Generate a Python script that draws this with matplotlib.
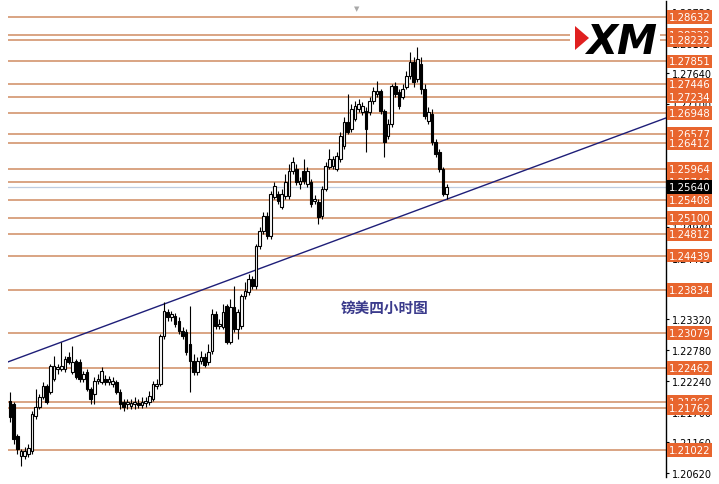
import numpy as np
import matplotlib.pyplot as plt
from matplotlib.patches import Polygon, Rectangle

plt.rcParams['font.family'] = ['DejaVu Sans']

# GBPUSD 4h candles
opens = [1.2189, 1.2183, 1.2127, 1.2092, 1.2092, 1.2095, 1.2101, 1.2162, 1.2178, 1.2196,
         1.2215, 1.2204, 1.2227, 1.2245, 1.2245, 1.2245, 1.2266, 1.2239, 1.2259, 1.2257,
         1.2227, 1.2239, 1.2210, 1.2201, 1.2224, 1.2222, 1.2227, 1.2222, 1.2218, 1.2222,
         1.2204, 1.2187, 1.2183, 1.2180, 1.2183, 1.2185, 1.2181, 1.2185, 1.2187, 1.2192,
         1.2215, 1.2218, 1.2303, 1.2345, 1.2336, 1.2338, 1.2329, 1.2311, 1.2310, 1.2289,
         1.2259, 1.2239, 1.2259, 1.2266, 1.2257, 1.2277, 1.2341, 1.2320, 1.2319, 1.2355,
         1.2292, 1.2354, 1.2315, 1.2320, 1.2373, 1.2380, 1.2403, 1.2391, 1.2461, 1.2487,
         1.2514, 1.2478, 1.2547, 1.2552, 1.2529, 1.2549, 1.2549, 1.2593, 1.2596, 1.2570,
         1.2593, 1.2570, 1.2573, 1.2540, 1.2538, 1.2514, 1.2561, 1.2600, 1.2601, 1.2596,
         1.2614, 1.2637, 1.2679, 1.2666, 1.2684, 1.2701, 1.2696, 1.2698, 1.2696, 1.2716,
         1.2728, 1.2733, 1.2698, 1.2654, 1.2675, 1.2742, 1.2731, 1.2723, 1.2740, 1.2760,
         1.2784, 1.2754, 1.2781, 1.2737, 1.2680, 1.2693, 1.2644, 1.2626, 1.2596, 1.2552]
highs = [1.2204, 1.2187, 1.2131, 1.2104, 1.2108, 1.2113, 1.2171, 1.2210, 1.2201, 1.2222,
         1.2218, 1.2253, 1.2268, 1.2253, 1.2292, 1.2268, 1.2275, 1.2285, 1.2262, 1.2262,
         1.2241, 1.2245, 1.2213, 1.2231, 1.2236, 1.2248, 1.2234, 1.2232, 1.2231, 1.2225,
         1.2210, 1.2192, 1.2192, 1.2192, 1.2196, 1.2192, 1.2196, 1.2196, 1.2206, 1.2224,
         1.2227, 1.2306, 1.2362, 1.2350, 1.2347, 1.2343, 1.2336, 1.2319, 1.2315, 1.2355,
         1.2271, 1.2266, 1.2276, 1.2273, 1.2289, 1.2350, 1.2347, 1.2333, 1.2359, 1.2359,
         1.2368, 1.2391, 1.2350, 1.2377, 1.2398, 1.2412, 1.2408, 1.2464, 1.2494, 1.2521,
         1.2521, 1.2557, 1.2573, 1.2557, 1.2561, 1.2587, 1.2605, 1.2617, 1.2605, 1.2582,
         1.2614, 1.2600, 1.2579, 1.2550, 1.2543, 1.2566, 1.2608, 1.2631, 1.2619, 1.2626,
         1.2661, 1.2687, 1.2728, 1.2710, 1.2716, 1.2719, 1.2714, 1.2705, 1.2723, 1.2740,
         1.2751, 1.2737, 1.2701, 1.2684, 1.2745, 1.2749, 1.2737, 1.2745, 1.2768, 1.2802,
         1.2793, 1.2810, 1.2793, 1.2745, 1.2705, 1.2701, 1.2649, 1.2631, 1.2600, 1.2570]
lows = [1.2152, 1.2113, 1.2095, 1.2074, 1.2087, 1.2090, 1.2095, 1.2157, 1.2174, 1.2192,
        1.2183, 1.2201, 1.2224, 1.2236, 1.2241, 1.2239, 1.2253, 1.2236, 1.2227, 1.2222,
        1.2222, 1.2206, 1.2183, 1.2183, 1.2218, 1.2218, 1.2217, 1.2217, 1.2213, 1.2201,
        1.2174, 1.2171, 1.2174, 1.2174, 1.2174, 1.2176, 1.2176, 1.2178, 1.2181, 1.2189,
        1.2210, 1.2215, 1.2297, 1.2329, 1.2329, 1.2319, 1.2306, 1.2297, 1.2269, 1.2204,
        1.2234, 1.2234, 1.2253, 1.2248, 1.2252, 1.2271, 1.2315, 1.2315, 1.2315, 1.2289,
        1.2289, 1.2310, 1.2297, 1.2315, 1.2368, 1.2375, 1.2385, 1.2385, 1.2456, 1.2482,
        1.2473, 1.2473, 1.2543, 1.2535, 1.2526, 1.2543, 1.2543, 1.2587, 1.2568, 1.2561,
        1.2570, 1.2564, 1.2529, 1.2535, 1.2500, 1.2508, 1.2557, 1.2596, 1.2596, 1.2593,
        1.2608, 1.2631, 1.2658, 1.2661, 1.2680, 1.2696, 1.2691, 1.2626, 1.2691, 1.2710,
        1.2723, 1.2693, 1.2617, 1.2649, 1.2670, 1.2723, 1.2701, 1.2719, 1.2737, 1.2754,
        1.2740, 1.2749, 1.2728, 1.2684, 1.2675, 1.2638, 1.2617, 1.2591, 1.2549, 1.2543]
closes = [1.2160, 1.2122, 1.2104, 1.2101, 1.2101, 1.2106, 1.2166, 1.2178, 1.2196, 1.2215,
          1.2187, 1.2250, 1.2250, 1.2248, 1.2250, 1.2262, 1.2257, 1.2257, 1.2231, 1.2227,
          1.2236, 1.2210, 1.2192, 1.2224, 1.2227, 1.2241, 1.2222, 1.2227, 1.2224, 1.2204,
          1.2183, 1.2178, 1.2187, 1.2185, 1.2187, 1.2181, 1.2187, 1.2189, 1.2197, 1.2218,
          1.2218, 1.2303, 1.2347, 1.2336, 1.2341, 1.2324, 1.2311, 1.2303, 1.2275, 1.2259,
          1.2239, 1.2259, 1.2266, 1.2252, 1.2275, 1.2341, 1.2320, 1.2324, 1.2345, 1.2292,
          1.2354, 1.2315, 1.2345, 1.2373, 1.2382, 1.2403, 1.2391, 1.2461, 1.2487, 1.2514,
          1.2478, 1.2552, 1.2566, 1.2540, 1.2552, 1.2573, 1.2593, 1.2608, 1.2573, 1.2575,
          1.2575, 1.2593, 1.2535, 1.2543, 1.2512, 1.2561, 1.2601, 1.2614, 1.2614, 1.2619,
          1.2654, 1.2679, 1.2661, 1.2701, 1.2707, 1.2710, 1.2707, 1.2666, 1.2716, 1.2733,
          1.2733, 1.2698, 1.2644, 1.2675, 1.2742, 1.2728, 1.2707, 1.2737, 1.2760, 1.2784,
          1.2749, 1.2789, 1.2737, 1.2689, 1.2696, 1.2644, 1.2622, 1.2596, 1.2552, 1.2564]

# support / resistance levels with their price tags
levels = [1.28632, 1.28320, 1.28232, 1.27851, 1.27446, 1.27234, 1.26948, 1.26577,
          1.26412, 1.25964, 1.25740, 1.25408, 1.25100, 1.24812, 1.24439, 1.23834,
          1.23079, 1.22462, 1.21866, 1.21762, 1.21022]
price_ticks = [1.20620, 1.21160, 1.21700, 1.22240, 1.22780, 1.23320, 1.23860, 1.24400,
               1.24940, 1.25480, 1.26020, 1.26560, 1.27100, 1.27640, 1.28180, 1.28720]
last_price = 1.25640
# trend line through two candle extremes (bar index, price)
trend_a = (14, 1.2292)
trend_b = (119, 1.2543)
title = '镑美四小时图'

W, H = 719, 485
fig = plt.figure(figsize=(W / 100, H / 100), dpi=100)
ax = fig.add_axes([8 / W, 7 / H, 658 / W, 476 / H])

idx = np.arange(len(opens))
o = np.array(opens)
c = np.array(closes)
up = c >= o

for lv in levels:
    ax.axhline(lv, color='#CF8B62', lw=1.1, zorder=1)
ax.axhline(last_price, color='#BFCDE0', lw=0.9, zorder=1)
ax.axline(trend_a, trend_b, color='#1E1E78', lw=1.0, zorder=3)

ax.vlines(idx, lows, highs, color='black', lw=0.8, zorder=4)
ax.bar(idx[up], np.maximum(c - o, 0.00003)[up], bottom=o[up], width=0.72,
       color='white', edgecolor='black', lw=0.8, zorder=5)
ax.bar(idx[~up], (o - c)[~up], bottom=c[~up], width=0.72,
       color='black', edgecolor='black', lw=0.8, zorder=5)

ax.set_xlim(-0.55, 178.75)
ax.set_ylim(1.20550, 1.28913)
for s in ['left', 'top', 'bottom']:
    ax.spines[s].set_visible(False)
ax.spines['right'].set_color('black')
ax.spines['right'].set_linewidth(1.0)
ax.set_xticks([])
ax.yaxis.tick_right()
ax.set_yticks(price_ticks)
ax.set_yticklabels([f'{t:.5f}' for t in price_ticks])
ax.tick_params(axis='y', labelsize=7, length=2.5, pad=1.5, colors='black')

for lv in levels:
    ax.annotate(f'{lv:.5f}', xy=(1, lv), xycoords=('axes fraction', 'data'),
                xytext=(1.8, 0), textcoords='offset points', ha='left', va='center',
                fontsize=7.3, color='white', annotation_clip=False, zorder=6,
                bbox=dict(boxstyle='square,pad=0.18', fc='#E8652E', ec='none'))
ax.annotate(f'{last_price:.5f}', xy=(1, last_price), xycoords=('axes fraction', 'data'),
            xytext=(1.8, 0), textcoords='offset points', ha='left', va='center',
            fontsize=7.3, color='white', annotation_clip=False, zorder=7,
            bbox=dict(boxstyle='square,pad=0.18', fc='black', ec='none'))

# chart title
fig.text(385 / W, 1 - 308 / H, title, ha='center', va='center', fontsize=10.5,
         color='#3B3B8C', fontweight='bold', family=['Noto Sans CJK SC', 'DejaVu Sans'])
fig.text(357 / W, 1 - 9 / H, '▼', ha='center', va='center', fontsize=5, color='#A8A8A8')

# XM logo
fig.add_artist(Rectangle((570 / W, 1 - 60 / H), 90 / W, 40 / H, transform=fig.transFigure,
                         fc='white', ec='none', zorder=5))
fig.add_artist(Polygon([(575 / W, 1 - 27 / H), (589 / W, 1 - 39 / H), (575 / W, 1 - 51 / H)],
                       closed=True, transform=fig.transFigure, fc='#E02020', ec='none', zorder=6))
fig.text(586 / W, 1 - 54 / H, 'XM', fontsize=29, fontweight='heavy', style='oblique',
         ha='left', va='baseline', color='black', zorder=7)

fig.savefig('out.png', dpi=100)
